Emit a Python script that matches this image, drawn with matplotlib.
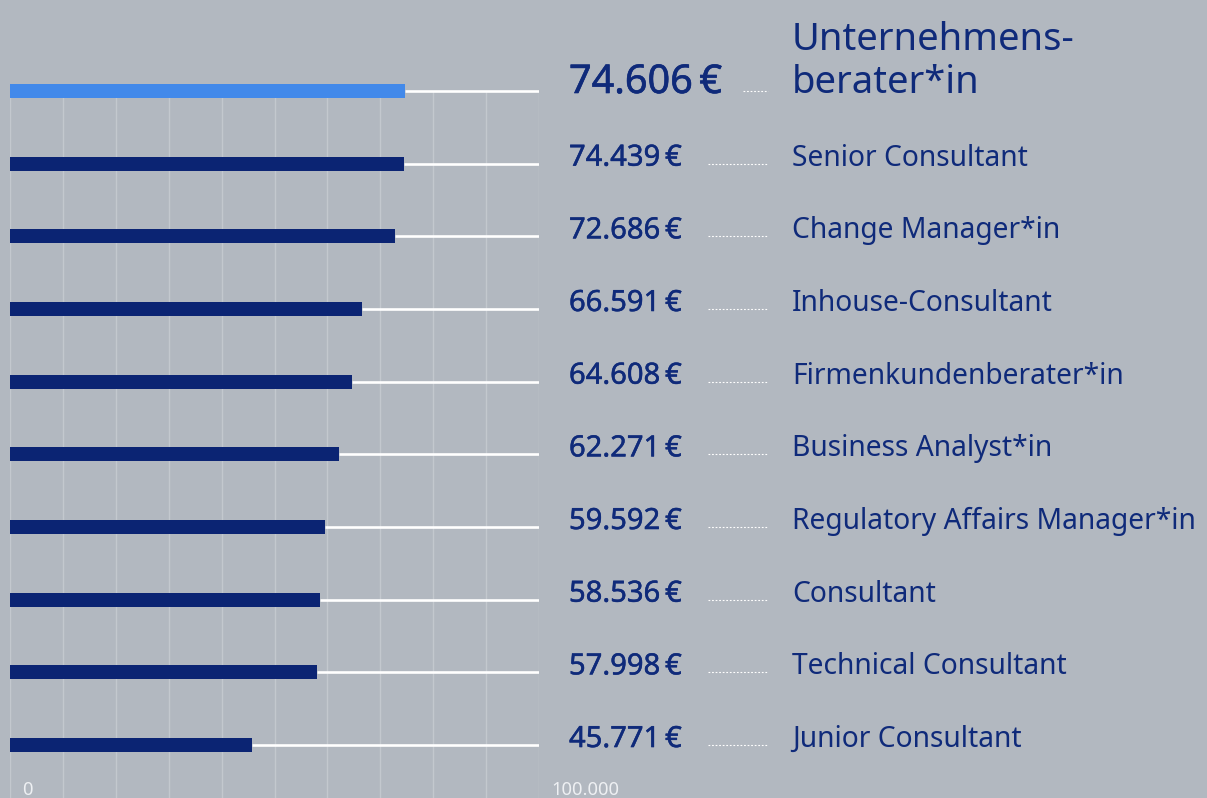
import matplotlib
matplotlib.use("Agg")
import matplotlib.pyplot as plt
import matplotlib.patheffects as pe
from matplotlib.transforms import blended_transform_factory, offset_copy

labels = ["Unternehmens-\nberater*in", "Senior Consultant", "Change Manager*in",
          "Inhouse-Consultant", "Firmenkundenberater*in", "Business Analyst*in",
          "Regulatory Affairs Manager*in", "Consultant", "Technical Consultant",
          "Junior Consultant"]
values = [74606, 74439, 72686, 66591, 64608, 62271, 59592, 58536, 57998, 45771]
value_texts = ["74.606\u2009€", "74.439\u2009€", "72.686\u2009€", "66.591\u2009€", "64.608\u2009€",
               "62.271\u2009€", "59.592\u2009€", "58.536\u2009€", "57.998\u2009€", "45.771\u2009€"]
xmax = 100000
tick_vals = [0, 100000]
tick_labels = ["0", "100.000"]

BG = "#b2b8c0"
NAVY = "#0b2473"
TEXT = "#0f2a7a"
HIGHLIGHT = "#4289ea"
GRID = "#c3c8ce"

W, H = 1207, 798
fig = plt.figure(figsize=(W / 100, H / 100), dpi=100, facecolor=BG)
x0, x1 = 10, 539
ax = fig.add_axes([x0 / W, 0, (x1 - x0) / W, 1])
ax.set_facecolor(BG)
ax.set_xlim(0, xmax)
top_px, step = 91, 72.67
ax.set_ylim(9 + (H - (top_px + 9 * step)) / step, -top_px / step)
for s in ax.spines.values():
    s.set_visible(False)
ax.set_xticks([])
ax.set_yticks([])

n = len(values)
ypos = list(range(n))
ybottom = ax.get_ylim()[0]
# gridlines
ax.vlines([v for v in range(0, xmax + 1, 10000)], 0, ybottom, color=GRID, lw=1.0, zorder=0)
# tracks
ax.hlines(ypos, values, xmax, color="white", lw=1.9, zorder=1)
colors = [HIGHLIGHT] + [NAVY] * (n - 1)
ax.barh(ypos, values, height=0.19, color=colors, zorder=2)

fam = ["Noto Sans", "DejaVu Sans"]
tr = blended_transform_factory(fig.transFigure, ax.transData)
for i, (lab, vt) in enumerate(zip(labels, value_texts)):
    big = (i == 0)
    vs = 28.5 if big else 21
    ls = 27.5 if big else 20.3
    t_off = offset_copy(tr, fig=fig, y=-2 / 100 * 72, units="points")
    ax.text(569 / W, i, vt, transform=t_off, fontsize=vs, color=TEXT,
            family=fam, va="baseline", ha="left",
            path_effects=[pe.withStroke(linewidth=0.45 if big else 0.35, foreground=TEXT)])
    lines = lab.split("\n")
    for k, line in enumerate(reversed(lines)):
        o = offset_copy(tr, fig=fig, y=(-2 + 43 * k) * 0.72, units="points")
        ax.text(792 / W, i, line, transform=o, fontsize=ls, color=TEXT,
                family=fam, va="baseline", ha="left")
    dx0 = 743 if big else 708
    ax.plot([dx0 / W, 768 / W], [i, i], transform=tr, color="white", lw=0.8,
            dashes=(1.6, 1.6), clip_on=False, zorder=3)

for v, tl in zip(tick_vals, tick_labels):
    ax.annotate(tl, xy=(v, ybottom), xycoords="data", xytext=(12 * 0.72, -1 * 0.72),
                textcoords="offset points", fontsize=13.3, color="#eef0f3",
                family=fam, ha="left", va="bottom", annotation_clip=False)

fig.savefig("out.png", dpi=100, facecolor=BG)
